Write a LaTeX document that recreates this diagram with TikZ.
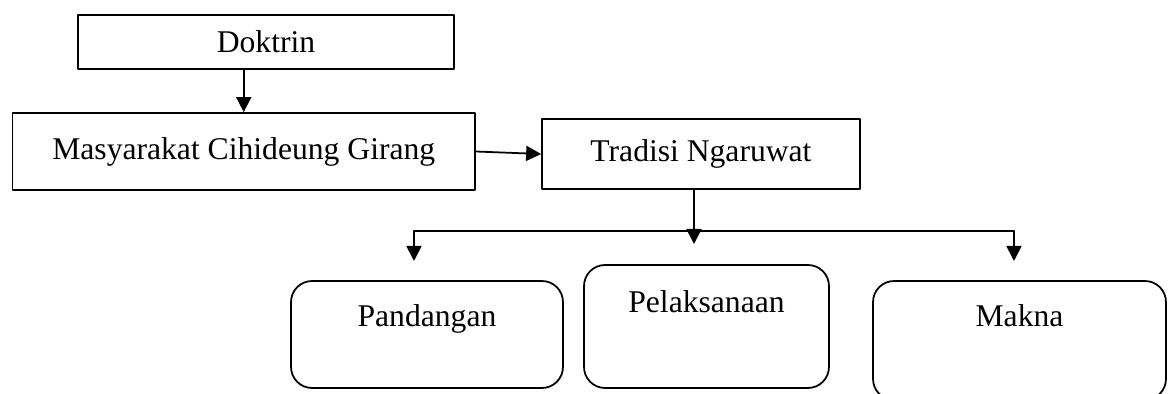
\documentclass[tikz,border=0pt]{standalone}
\usepackage{fontspec}
\setmainfont{Liberation Serif}
\usepackage{tikz}
\usetikzlibrary{arrows}
\usetikzlibrary{arrows.meta,calc}

\begin{document}
\begin{tikzpicture}[line cap=round,line join=round,>={Triangle[length=0.3cm,width=0.3cm]},x=0.02cm,y=-0.02cm,
        sqbox/.style={draw,line width=1pt,rectangle,inner sep=0pt,font=\fontsize{18}{22}\selectfont},
        rndbox/.style={sqbox,rounded corners=0.42cm}]
                \useasboundingbox (0,0) rectangle (1171,394);
                % kotak atas
                \node [sqbox,minimum width=7.52cm,minimum height=1.08cm] (doktrin) at (266,42) {Doktrin};
                \node [sqbox,minimum width=9.25cm,minimum height=1.54cm] (masyarakat) at (243.75,151.5) {Masyarakat Cihideung Girang};
                \node [sqbox,minimum width=6.36cm,minimum height=1.4cm] (tradisi) at (701,154) {Tradisi Ngaruwat};
                % kotak bawah
                \node [rndbox,minimum width=5.44cm,minimum height=2.14cm,text depth=0.75cm] (pandangan) at (427,334.5) {Pandangan};
                \node [rndbox,minimum width=4.9cm,minimum height=2.46cm,text depth=0.99cm] (pelaksanaan) at (706.5,326.5) {Pelaksanaan};
                \node [rndbox,minimum width=5.86cm,minimum height=2.38cm,text depth=0.99cm] (makna) at (1019.5,340.5) {Makna};
                % cabang
                \coordinate (bar) at (694,231);
                \coordinate (barl) at (414,231);
                \coordinate (barr) at (1014,231);
                \coordinate (tipm) at (694,244);
                \coordinate (tipl) at (414,261);
                \coordinate (tipr) at (1014,261);
                \draw [line width=1pt,->] (doktrin.south -| masyarakat.north) -- (masyarakat.north);
                \draw [line width=1pt,->] (masyarakat.east) -- (tradisi.west);
                \draw [line width=1pt,->] (tradisi.south -| bar) -- (tipm);
                \draw [line width=1pt] (barl) -- (barr);
                \draw [line width=1pt,->] (barl) -- (tipl);
                \draw [line width=1pt,->] (barr) -- (tipr);
\end{tikzpicture}
\end{document}
